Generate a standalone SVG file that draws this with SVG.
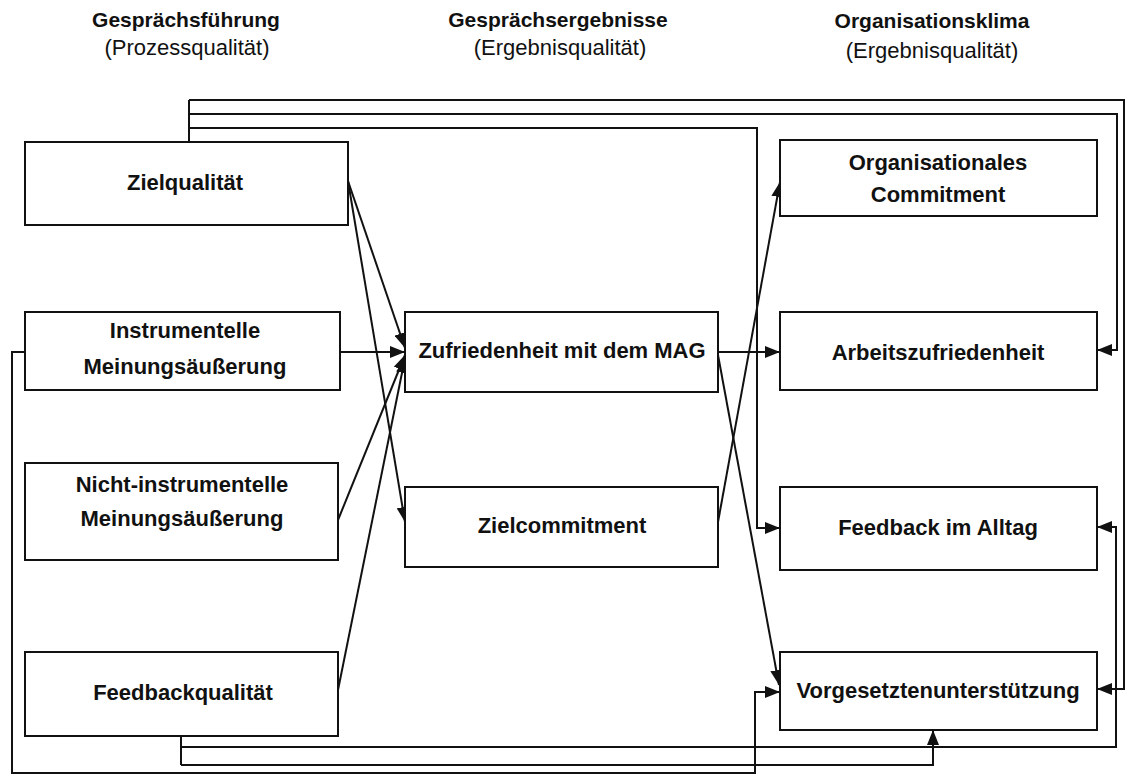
<svg xmlns="http://www.w3.org/2000/svg" width="1126" height="778" viewBox="0 0 1126 778">
  <style>
    .box { fill: #fff; stroke: #111; stroke-width: 2; }
    .lbl { font-family: "Liberation Sans", Arial, sans-serif; font-weight: bold; font-size: 22px; fill: #111; text-anchor: middle; }
    .hd { font-family: "Liberation Sans", Arial, sans-serif; font-weight: bold; font-size: 21px; fill: #111; text-anchor: middle; }
    .sub { font-family: "Liberation Sans", Arial, sans-serif; font-size: 22px; fill: #111; text-anchor: middle; }
    .edge { fill: none; stroke: #111; stroke-width: 2; marker-end: url(#arrow); }
    .plain { fill: none; stroke: #111; stroke-width: 2; }
  </style>
  <defs>
    <marker id="arrow" markerUnits="userSpaceOnUse" markerWidth="16" markerHeight="12" refX="15" refY="6" orient="auto">
      <path d="M0,0 L15,6 L0,12 Z" fill="#111"/>
    </marker>
  </defs>
  <rect width="1126" height="778" fill="#fff"/>

  <!-- column headers -->
  <g id="headers">
    <text class="hd" x="186" y="27">Gesprächsführung</text>
    <text class="sub" x="187" y="55">(Prozessqualität)</text>
    <text class="hd" x="558" y="27">Gesprächsergebnisse</text>
    <text class="sub" x="560" y="55">(Ergebnisqualität)</text>
    <text class="hd" x="932" y="28">Organisationsklima</text>
    <text class="sub" x="932" y="58">(Ergebnisqualität)</text>
  </g>

  <!-- connectors -->
  <g id="connectors">
    <line class="edge" x1="348" y1="181" x2="405" y2="348"/>
    <line class="edge" x1="348" y1="181" x2="405" y2="522"/>
    <line class="edge" x1="340" y1="352" x2="405" y2="352"/>
    <line class="edge" x1="338" y1="520" x2="405" y2="355"/>
    <line class="edge" x1="338" y1="690" x2="405" y2="358"/>
    <line class="edge" x1="718" y1="352" x2="780" y2="352"/>
    <line class="edge" x1="718" y1="355" x2="779" y2="685"/>
    <line class="edge" x1="718" y1="522" x2="780" y2="182"/>
    <!-- routed lines from Zielqualität over the top -->
    <polyline class="plain" points="189,142 189,100"/>
    <polyline class="edge" points="189,128 757,128 757,528 780,528"/>
    <polyline class="edge" points="189,114 1117,114 1117,350 1097,350"/>
    <polyline class="edge" points="189,100 1124,100 1124,689 1097,689"/>
    <!-- routed lines from Feedbackqualität along the bottom -->
    <polyline class="plain" points="181,736 181,765"/>
    <polyline class="edge" points="181,765 933,765 933,730"/>
    <polyline class="edge" points="181,747 1116,747 1116,527 1097,527"/>
    <!-- routed line from Instrumentelle Meinungsäußerung -->
    <polyline class="edge" points="25,352 12,352 12,773 755,773 755,692 780,692"/>
  </g>

  <!-- Gesprächsführung -->
  <g id="zielqualitaet">
    <rect class="box" x="25" y="142" width="323" height="83"/>
    <text class="lbl" x="185" y="190">Zielqualität</text>
  </g>
  <g id="instrumentelle">
    <rect class="box" x="25" y="312" width="315" height="78"/>
    <text class="lbl" x="185" y="338">Instrumentelle</text>
    <text class="lbl" x="185" y="374">Meinungsäußerung</text>
  </g>
  <g id="nicht-instrumentelle">
    <rect class="box" x="25" y="463" width="313" height="97"/>
    <text class="lbl" x="182" y="492">Nicht-instrumentelle</text>
    <text class="lbl" x="182" y="526">Meinungsäußerung</text>
  </g>
  <g id="feedbackqualitaet">
    <rect class="box" x="25" y="652" width="313" height="84"/>
    <text class="lbl" x="183" y="700">Feedbackqualität</text>
  </g>

  <!-- Gesprächsergebnisse -->
  <g id="zufriedenheit">
    <rect class="box" x="405" y="312" width="313" height="80"/>
    <text class="lbl" x="562" y="358">Zufriedenheit mit dem MAG</text>
  </g>
  <g id="zielcommitment">
    <rect class="box" x="405" y="487" width="313" height="80"/>
    <text class="lbl" x="562" y="533">Zielcommitment</text>
  </g>

  <!-- Organisationsklima -->
  <g id="org-commitment">
    <rect class="box" x="780" y="140" width="317" height="76"/>
    <text class="lbl" x="938" y="170">Organisationales</text>
    <text class="lbl" x="938" y="202">Commitment</text>
  </g>
  <g id="arbeitszufriedenheit">
    <rect class="box" x="780" y="312" width="317" height="78"/>
    <text class="lbl" x="938" y="360">Arbeitszufriedenheit</text>
  </g>
  <g id="feedback-alltag">
    <rect class="box" x="780" y="487" width="317" height="83"/>
    <text class="lbl" x="938" y="535">Feedback im Alltag</text>
  </g>
  <g id="vorgesetzten">
    <rect class="box" x="780" y="652" width="317" height="78"/>
    <text class="lbl" x="938" y="698">Vorgesetztenunterstützung</text>
  </g>
</svg>
